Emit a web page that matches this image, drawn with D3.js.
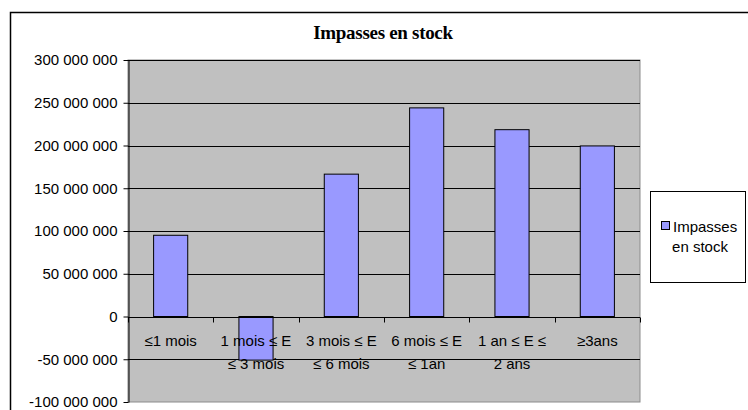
<!DOCTYPE html>
<html>
<head>
<meta charset="utf-8">
<script src="https://cdn.jsdelivr.net/npm/d3@7"></script>
<style>
  html, body { margin: 0; padding: 0; background: #fff; }
  svg { display: block; }
</style>
</head>
<body>
<svg id="chart" width="748" height="410"></svg>
<script>
// Maturity buckets (two-line labels) and stock gap values
const categories = [
  ["≤1 mois"],
  ["1 mois ≤ E", "≤ 3 mois"],
  ["3 mois ≤ E", "≤ 6 mois"],
  ["6 mois ≤ E", "≤ 1an"],
  ["1 an ≤ E ≤", "2 ans"],
  ["≥3ans"]
];
const values = [95000000, -51000000, 166500000, 244000000, 218500000, 199500000];
const yTicks = [-100000000, -50000000, 0, 50000000, 100000000, 150000000, 200000000, 250000000, 300000000];
const seriesName = ["Impasses", "en stock"];
const title = "Impasses en stock";

const svg = d3.select("#chart");
const W = 748, H = 410;
const plot = { left: 128, top: 60, right: 640, bottom: 402 };

const locale = d3.formatLocale({ decimal: ",", thousands: " ", grouping: [3], currency: ["", " €"], minus: "-" });
const fmt = locale.format(",d");

// outer chart frame (runs off the right and bottom edges)
svg.append("rect")
  .attr("x", 10.5).attr("y", 12.5)
  .attr("width", 800).attr("height", 500)
  .attr("fill", "#fff").attr("stroke", "#000").attr("stroke-width", 1.5);

const x = d3.scaleBand().domain(d3.range(categories.length))
  .range([plot.left, plot.right]).paddingInner(0).paddingOuter(0);
const y = d3.scaleLinear().domain([-100000000, 300000000]).range([plot.bottom, plot.top]);

// plot area background
svg.append("rect")
  .attr("x", plot.left).attr("y", plot.top)
  .attr("width", plot.right - plot.left).attr("height", plot.bottom - plot.top)
  .attr("fill", "#c0c0c0").attr("stroke", "#8c8c8c").attr("stroke-width", 1);

// horizontal gridlines
svg.append("g").selectAll("line").data(yTicks.filter(t => t !== -100000000))
  .join("line")
  .attr("x1", plot.left).attr("x2", plot.right)
  .attr("y1", d => Math.round(y(d)) + 0.5).attr("y2", d => Math.round(y(d)) + 0.5)
  .attr("stroke", "#000").attr("stroke-width", 1);

// bars
const barW = x.bandwidth() / 2.5;
svg.append("g").selectAll("rect").data(values)
  .join("rect")
  .attr("x", (d, i) => x(i) + (x.bandwidth() - barW) / 2)
  .attr("y", d => y(Math.max(0, d)))
  .attr("width", barW)
  .attr("height", d => Math.abs(y(d) - y(0)))
  .attr("fill", "#9999ff").attr("stroke", "#000").attr("stroke-width", 1);

// value axis
const yAxis = d3.axisLeft(y).tickValues(yTicks).tickFormat(fmt).tickSizeInner(5).tickSizeOuter(0).tickPadding(6);
const gy = svg.append("g").attr("transform", `translate(${plot.left + 0.5},0)`).call(yAxis);
gy.select(".domain").attr("stroke", "#000");
gy.selectAll(".tick line").attr("stroke", "#000");
gy.selectAll("text")
  .attr("font-family", "Liberation Sans, Arial, sans-serif")
  .attr("font-size", 15).attr("fill", "#000");

// category axis on the zero line
const zeroY = Math.round(y(0)) + 0.5;
svg.append("line")
  .attr("x1", plot.left).attr("x2", plot.right)
  .attr("y1", zeroY).attr("y2", zeroY).attr("stroke", "#000");
const bounds = d3.range(categories.length + 1).map(i => i < categories.length ? x(i) : plot.right);
svg.append("g").selectAll("line").data(bounds)
  .join("line")
  .attr("x1", d => Math.round(d) + 0.5).attr("x2", d => Math.round(d) + 0.5)
  .attr("y1", zeroY).attr("y2", zeroY + 5)
  .attr("stroke", "#000");

const catText = svg.append("g").selectAll("text").data(categories)
  .join("text")
  .attr("text-anchor", "middle")
  .attr("font-family", "Liberation Sans, Arial, sans-serif")
  .attr("font-size", 15).attr("fill", "#000");
catText.selectAll("tspan").data((d, i) => d.map(l => ({ l, i })))
  .join("tspan")
  .attr("x", d => x(d.i) + x.bandwidth() / 2)
  .attr("y", (d, j) => 346 + j * 22.5)
  .text(d => d.l);

// title
svg.append("text")
  .attr("x", 383).attr("y", 38.5)
  .attr("text-anchor", "middle")
  .attr("font-family", "Liberation Serif, Times New Roman, serif")
  .attr("font-weight", "bold").attr("font-size", 19)
  .attr("letter-spacing", -0.3)
  .text(title);

// legend
const lg = svg.append("g");
lg.append("rect")
  .attr("x", 650.5).attr("y", 191.5).attr("width", 95).attr("height", 91)
  .attr("fill", "#fff").attr("stroke", "#000").attr("stroke-width", 1);
lg.append("rect")
  .attr("x", 661.5).attr("y", 221.5).attr("width", 8).attr("height", 8)
  .attr("fill", "#9999ff").attr("stroke", "#000").attr("stroke-width", 1);
lg.append("text")
  .attr("x", 673).attr("y", 232)
  .attr("font-family", "Liberation Sans, Arial, sans-serif")
  .attr("font-size", 15).attr("fill", "#000")
  .text(seriesName[0]);
lg.append("text")
  .attr("x", 700).attr("y", 252)
  .attr("text-anchor", "middle")
  .attr("font-family", "Liberation Sans, Arial, sans-serif")
  .attr("font-size", 15).attr("fill", "#000")
  .text(seriesName[1]);
</script>
</body>
</html>
